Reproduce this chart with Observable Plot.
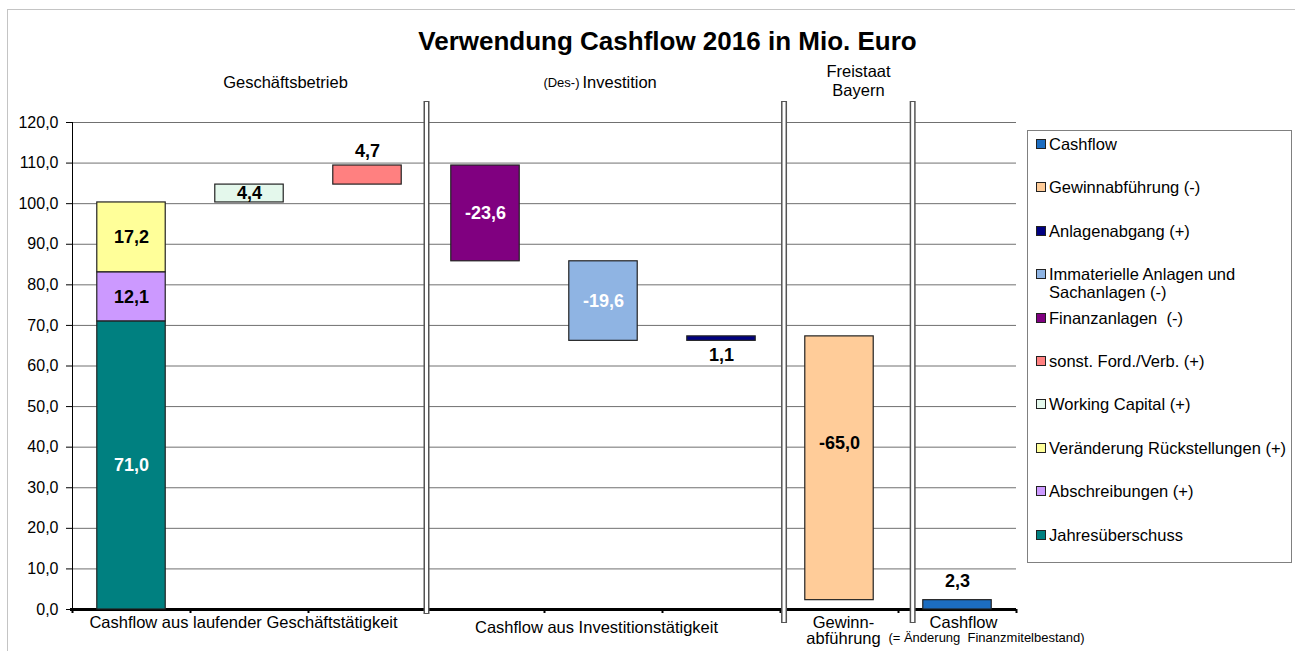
<!DOCTYPE html>
<html>
<head>
<meta charset="utf-8">
<script src="https://cdn.jsdelivr.net/npm/d3@7"></script>
<script src="https://cdn.jsdelivr.net/npm/@observablehq/plot@0.6"></script>
<style>
  body { margin: 0; background: #fff; font-family: "Liberation Sans", Arial, sans-serif; }
  #wrap { position: relative; width: 1295px; height: 651px; overflow: hidden; background: #fff; }
  #frame { position: absolute; left: 7px; top: 9px; width: 2000px; height: 2000px;
           border-top: 1px solid #c4c4c4; border-left: 1px solid #c4c4c4; pointer-events: none; z-index: 3; }
  #title { position: relative; height: 62px; }
  #title span { position: absolute; left: 0; width: 1335px; top: 28px; text-align: center;
                font-weight: bold; font-size: 26px; line-height: 26px; color: #000; }
  #chart svg { display: block; background: transparent; }
  #legend { position: absolute; left: 1027px; top: 130px; width: 263px; height: 431px;
            border: 1px solid #808080; background: #fff; z-index: 2; }
  .item { position: absolute; left: 0; font-size: 16.5px; line-height: 18px; color: #000; white-space: pre; }
  .item .sw { position: absolute; left: 8px; top: 4px; width: 8px; height: 8px; border: 1px solid #222; }
  .item .tx { position: absolute; left: 21px; top: 0; }
</style>
</head>
<body>
<div id="wrap">
  <div id="title"><span>Verwendung Cashflow 2016 in Mio. Euro</span></div>
  <div id="chart"></div>
  <div id="legend"></div>
  <div id="frame"></div>
</div>
<script>
// ---- data ----
const seriesNames = [
  "Jahresüberschuss",
  "Abschreibungen (+)",
  "Veränderung Rückstellungen (+)",
  "Working Capital (+)",
  "sonst. Ford./Verb. (+)",
  "Finanzanlagen  (-)",
  "Immaterielle Anlagen und\nSachanlagen (-)",
  "Anlagenabgang (+)",
  "Gewinnabführung (-)",
  "Cashflow"
];
const seriesValues = [71.0, 12.1, 17.2, 4.4, 4.7, -23.6, -19.6, 1.1, -65.0, 2.3];
const seriesSlot = [0, 0, 0, 1, 2, 3, 4, 5, 6, 7];
const seriesColors = ["#008080", "#CC99FF", "#FFFF99", "#E4F8EC", "#FF8080",
                      "#800080", "#8FB4E3", "#000080", "#FFCC99", "#1C6DC1"];
const yTicks = [0, 10, 20, 30, 40, 50, 60, 70, 80, 90, 100, 110, 120];
const groupLabels = ["Cashflow aus laufender Geschäftstätigkeit", "Cashflow aus Investitionstätigkeit", "Gewinn-\nabführung", "Cashflow"];
const groupStart = [0, 3, 6, 7];
const groupEnd = [3, 6, 7, 8];
const sectionLabels = ["Geschäftsbetrieb", "Investition", "Freistaat\nBayern"];
const sectionPrefix = "(Des-)";
const cashflowNote = "(= Änderung  Finanzmitelbestand)";
const slotCount = 8;
const breakPositions = [3, 6.03, 7.12];

// ---- build waterfall (running total; last series is the total bar) ----
let cum = 0;
const bars = seriesNames.map((name, i) => {
  const v = seriesValues[i];
  let y1, y2;
  if (i === seriesNames.length - 1) { y1 = 0; y2 = v; }
  else { y1 = cum; y2 = cum + v; cum += v; }
  return { name, value: v, slot: seriesSlot[i], y1, y2,
           label: v.toFixed(1).replace(".", ",") };
});

const halfW = 0.29;
const whiteLabels = new Set(["Jahresüberschuss", "Finanzanlagen  (-)", "Immaterielle Anlagen und\nSachanlagen (-)"]);
const labelPlace = {
  "sonst. Ford./Verb. (+)": { at: "top", dy: -14 },
  "Anlagenabgang (+)": { at: "bottom", dy: 14 },
  "Gewinnabführung (-)": { at: "mid", dy: -25 },
  "Cashflow": { at: "top", dy: -19 }
};
const labelY = d => {
  const p = labelPlace[d.name];
  if (!p || p.at === "mid") return (d.y1 + d.y2) / 2;
  return p.at === "top" ? Math.max(d.y1, d.y2) : Math.min(d.y1, d.y2);
};
const labelDy = d => (labelPlace[d.name] ? labelPlace[d.name].dy : 0);

const groups = groupLabels.map((g, i) => ({ label: g, x: (groupStart[i] + groupEnd[i]) / 2 }));
const sections = sectionLabels.map((s, i) => ({ label: s, x: (groupStart[i] + groupEnd[i]) / 2 }));
const font = "'Liberation Sans', Arial, sans-serif";

const textMarks = [];
for (const d of bars) {
  textMarks.push(Plot.text([d], {
    x: b => b.slot + 0.5, y: labelY, text: "label", dy: labelDy(d),
    fill: whiteLabels.has(d.name) ? "#fff" : "#000",
    fontWeight: "bold", fontSize: 18, lineAnchor: "middle"
  }));
}

const chart = Plot.plot({
  width: 1295, height: 589,
  marginLeft: 72, marginRight: 279, marginTop: 60, marginBottom: 42,
  x: { domain: [0, slotCount], axis: null },
  y: { domain: [0, 120], axis: null },
  color: { domain: seriesNames, range: seriesColors },
  style: { fontFamily: font, fontSize: "16px", color: "#000", background: "transparent" },
  marks: [
    Plot.ruleY(yTicks.filter(t => t > 0), { stroke: "#707070", strokeWidth: 1 }),
    Plot.axisY(yTicks, { tickFormat: t => t.toFixed(1).replace(".", ","), tickSize: 6, tickPadding: 8,
                         fontSize: 16, label: null, stroke: "#000" }),
    Plot.ruleX([0], { stroke: "#000", strokeWidth: 1 }),
    Plot.ruleY([0], { stroke: "#000", strokeWidth: 3, insetLeft: -2 }),
    Plot.ruleX(d3.range(0, slotCount + 1), { y1: 0, y2: 0, insetBottom: -4, stroke: "#000", strokeWidth: 2 }),
    Plot.ruleX(breakPositions.slice(0, 1), { stroke: "#555", strokeWidth: 6, insetTop: -21, insetBottom: -5 }),
    Plot.ruleX(breakPositions.slice(0, 1), { stroke: "#fff", strokeWidth: 3, insetTop: -20, insetBottom: -4 }),
    Plot.ruleX(breakPositions.slice(1), { stroke: "#555", strokeWidth: 6, insetTop: -21, insetBottom: -14 }),
    Plot.ruleX(breakPositions.slice(1), { stroke: "#fff", strokeWidth: 3, insetTop: -20, insetBottom: -13 }),
    Plot.rect(bars, { x1: d => d.slot + 0.5 - halfW, x2: d => d.slot + 0.5 + halfW,
                      y1: "y1", y2: "y2", fill: "name", stroke: "#222", strokeWidth: 1.2 }),
    ...textMarks,
    // section labels above the plot
    Plot.text([sections[0]], { x: "x", text: "label", frameAnchor: "top", dy: -40, dx: 36, lineAnchor: "middle", fontSize: 16.5 }),
    Plot.text([sections[1]], { x: "x", text: () => sectionPrefix, frameAnchor: "top", dy: -40, dx: -24, textAnchor: "end", lineAnchor: "middle", fontSize: 13 }),
    Plot.text([sections[1]], { x: "x", text: "label", frameAnchor: "top", dy: -40, dx: -21, textAnchor: "start", lineAnchor: "middle", fontSize: 16.5 }),
    Plot.text([sections[2]], { x: "x", text: "label", frameAnchor: "top", dy: -42, dx: 19, lineAnchor: "middle", lineHeight: 1.12, fontSize: 16.5 }),
    // category labels below the axis
    Plot.text([groups[0]], { x: "x", text: "label", frameAnchor: "bottom", dy: 7, dx: -6, lineAnchor: "top", fontSize: 16.5 }),
    Plot.text([groups[1]], { x: "x", text: "label", frameAnchor: "bottom", dy: 12, dx: -7, lineAnchor: "top", fontSize: 16.5 }),
    Plot.text([groups[2]], { x: "x", text: "label", frameAnchor: "bottom", dy: 7, dx: 4, lineAnchor: "top", lineHeight: 0.98, fontSize: 16.5 }),
    Plot.text([groups[3]], { x: "x", text: "label", frameAnchor: "bottom", dy: 7, dx: 6, lineAnchor: "top", fontSize: 16.5 }),
    Plot.text([groups[3]], { x: "x", text: () => cashflowNote, frameAnchor: "bottom", dy: 23, dx: 29, lineAnchor: "top", fontSize: 13 })
  ]
});
document.getElementById("chart").appendChild(chart);

// ---- legend (reverse order, as in the reference) ----
const legend = document.getElementById("legend");
const order = d3.range(seriesNames.length).reverse();
order.forEach((idx, i) => {
  const it = document.createElement("div");
  it.className = "item";
  it.style.top = (4 + i * 43.4) + "px";
  const sw = document.createElement("div");
  sw.className = "sw";
  sw.style.background = seriesColors[idx];
  const tx = document.createElement("div");
  tx.className = "tx";
  tx.textContent = seriesNames[idx];
  it.appendChild(sw); it.appendChild(tx);
  legend.appendChild(it);
});
</script>
</body>
</html>
